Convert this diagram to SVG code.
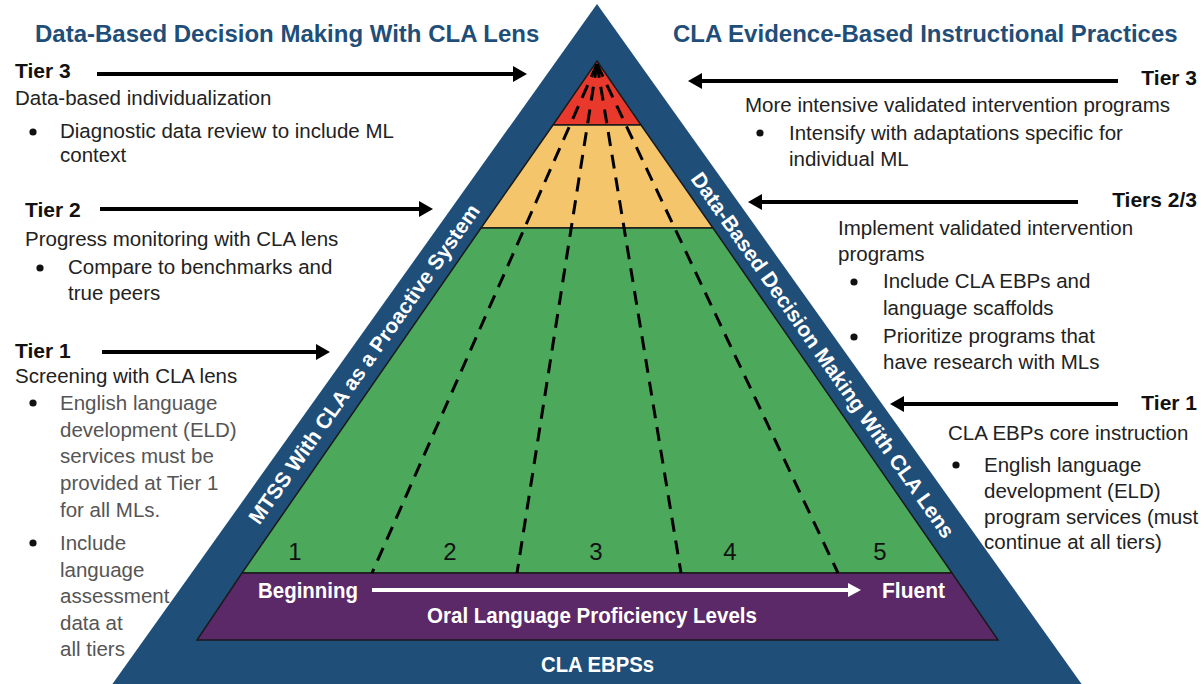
<svg xmlns="http://www.w3.org/2000/svg" width="1201" height="684" viewBox="0 0 1201 684">
<style>
.hdr{font-family:"Liberation Sans",Arial,sans-serif;font-weight:bold;font-size:24px;fill:#1f4e79}
.tier{font-family:"Liberation Sans",Arial,sans-serif;font-weight:bold;font-size:21px;fill:#111}
.body{font-family:"Liberation Sans",Arial,sans-serif;font-size:20.5px;fill:#222}
.gray{fill:#555}
.band{font-family:"Liberation Sans",Arial,sans-serif;font-weight:bold;font-size:21px;fill:#fff}
.wb{font-family:"Liberation Sans",Arial,sans-serif;font-weight:bold;font-size:22px;fill:#fff}
.num{font-family:"Liberation Sans",Arial,sans-serif;font-size:24px;fill:#111;text-anchor:middle}
.arrow{stroke:#000;stroke-width:4;fill:none;marker-end:url(#ah)}
.dash{stroke:#000;stroke-width:3;stroke-dasharray:14 9;fill:none}
.edge{stroke:#1a1a1a;stroke-width:1.5}
</style>
<defs>
<marker id="ah" viewBox="0 0 14 16" refX="4" refY="8" markerWidth="14" markerHeight="16" markerUnits="userSpaceOnUse" orient="auto">
<path d="M0,0 L14,8 L0,16 Z" fill="#000"/>
</marker>
<marker id="ahw" viewBox="0 0 13 14" refX="4" refY="7" markerWidth="13" markerHeight="14" markerUnits="userSpaceOnUse" orient="auto">
<path d="M0,0 L13,7 L0,14 Z" fill="#fff"/>
</marker>
</defs>
<rect width="1201" height="684" fill="#fff"/>

<g id="headers">
<text class="hdr" x="35" y="42">Data-Based Decision Making With CLA Lens</text>
<text class="hdr" x="673" y="42">CLA Evidence-Based Instructional Practices</text>
</g>

<g id="pyramid">
<polygon id="outer" points="597,4 1083,686 111,686" fill="#1f4e79"/>
<polygon id="tier3-band" class="edge" points="597,61 641,125 553,125" fill="#e8392c"/>
<polygon id="tier2-band" class="edge" points="553,125 641,125 713,228 481,228" fill="#f5c56b"/>
<polygon id="tier1-band" class="edge" points="481,228 713,228 952,573 242,573" fill="#4ca85a"/>
<polygon id="proficiency-band" class="edge" points="242,573 952,573 998,640 197,640" fill="#5b2868"/>
<g id="level-dividers">
<line class="dash" x1="597" y1="64" x2="372" y2="573"/>
<line class="dash" x1="597" y1="64" x2="517" y2="573"/>
<line class="dash" x1="597" y1="64" x2="681" y2="573"/>
<line class="dash" x1="597" y1="64" x2="838" y2="573"/>
</g>
<g id="levels">
<text class="num" x="295" y="560">1</text>
<text class="num" x="450" y="560">2</text>
<text class="num" x="596" y="560">3</text>
<text class="num" x="730" y="560">4</text>
<text class="num" x="880" y="560">5</text>
</g>
<g id="proficiency">
<text class="wb" x="258" y="598" textLength="100" lengthAdjust="spacingAndGlyphs">Beginning</text>
<text class="wb" x="882" y="598" textLength="63" lengthAdjust="spacingAndGlyphs">Fluent</text>
<line x1="372" y1="590" x2="852" y2="590" stroke="#fff" stroke-width="4" marker-end="url(#ahw)"/>
<text class="wb" x="427" y="623" textLength="330" lengthAdjust="spacingAndGlyphs">Oral Language Proficiency Levels</text>
</g>
<text id="base-label" class="wb" x="541" y="672" textLength="113" lengthAdjust="spacingAndGlyphs">CLA EBPSs</text>
<text id="left-band-label" class="band" text-anchor="middle" dy="0.35em" transform="translate(364,364) rotate(-54.9)">MTSS With CLA as a Proactive System</text>
<text id="right-band-label" class="band" text-anchor="middle" dy="0.35em" transform="translate(823,355) rotate(54.9)">Data-Based Decision Making With CLA Lens</text>
</g>

<g id="left-tier3">
<text class="tier" x="15" y="78">Tier 3</text>
<text class="body" x="15" y="105">Data-based individualization</text>
<circle cx="33" cy="132" r="3.6" fill="#111"/>
<text class="body" x="60" y="138">Diagnostic data review to include ML</text>
<text class="body" x="60" y="162">context</text>
</g>

<g id="left-tier2">
<text class="tier" x="25" y="217">Tier 2</text>
<text class="body" x="25" y="246">Progress monitoring with CLA lens</text>
<circle cx="40" cy="268" r="3.6" fill="#111"/>
<text class="body" x="68" y="274">Compare to benchmarks and</text>
<text class="body" x="68" y="300">true peers</text>
</g>

<g id="left-tier1">
<text class="tier" x="15" y="358">Tier 1</text>
<text class="body" x="15" y="383">Screening with CLA lens</text>
<circle cx="33" cy="403" r="3.6" fill="#111"/>
<text class="body gray" x="60" y="410">English language</text>
<text class="body gray" x="60" y="437">development (ELD)</text>
<text class="body gray" x="60" y="463">services must be</text>
<text class="body gray" x="60" y="490">provided at Tier 1</text>
<text class="body gray" x="60" y="517">for all MLs.</text>
<circle cx="33" cy="543" r="3.6" fill="#111"/>
<text class="body gray" x="60" y="550">Include</text>
<text class="body gray" x="60" y="577">language</text>
<text class="body gray" x="60" y="603">assessment</text>
<text class="body gray" x="60" y="630">data at</text>
<text class="body gray" x="60" y="656">all tiers</text>
</g>

<g id="right-tier3">
<text class="tier" x="1197" y="85" text-anchor="end">Tier 3</text>
<text class="body" x="745" y="112">More intensive validated intervention programs</text>
<circle cx="760" cy="133" r="3.6" fill="#111"/>
<text class="body" x="789" y="140">Intensify with adaptations specific for</text>
<text class="body" x="789" y="166">individual ML</text>
</g>

<g id="right-tier23">
<text class="tier" x="1197" y="207" text-anchor="end">Tiers 2/3</text>
<text class="body" x="838" y="235">Implement validated intervention</text>
<text class="body" x="838" y="261">programs</text>
<circle cx="854" cy="282" r="3.6" fill="#111"/>
<text class="body" x="883" y="288">Include CLA EBPs and</text>
<text class="body" x="883" y="315">language scaffolds</text>
<circle cx="854" cy="337" r="3.6" fill="#111"/>
<text class="body" x="883" y="343">Prioritize programs that</text>
<text class="body" x="883" y="369">have research with MLs</text>
</g>

<g id="right-tier1">
<text class="tier" x="1197" y="410" text-anchor="end">Tier 1</text>
<text class="body" x="948" y="440">CLA EBPs core instruction</text>
<circle cx="956" cy="465" r="3.6" fill="#111"/>
<text class="body" x="984" y="472">English language</text>
<text class="body" x="984" y="498">development (ELD)</text>
<text class="body" x="984" y="524">program services (must</text>
<text class="body" x="984" y="549">continue at all tiers)</text>
</g>

<g id="connectors">
<line class="arrow" x1="97" y1="74" x2="517" y2="74"/>
<line class="arrow" x1="100" y1="209" x2="423" y2="209"/>
<line class="arrow" x1="102" y1="352" x2="320" y2="352"/>
<line class="arrow" x1="1118" y1="81" x2="698" y2="81"/>
<line class="arrow" x1="1078" y1="202" x2="758" y2="202"/>
<line class="arrow" x1="1118" y1="404" x2="900" y2="404"/>
</g>
</svg>
